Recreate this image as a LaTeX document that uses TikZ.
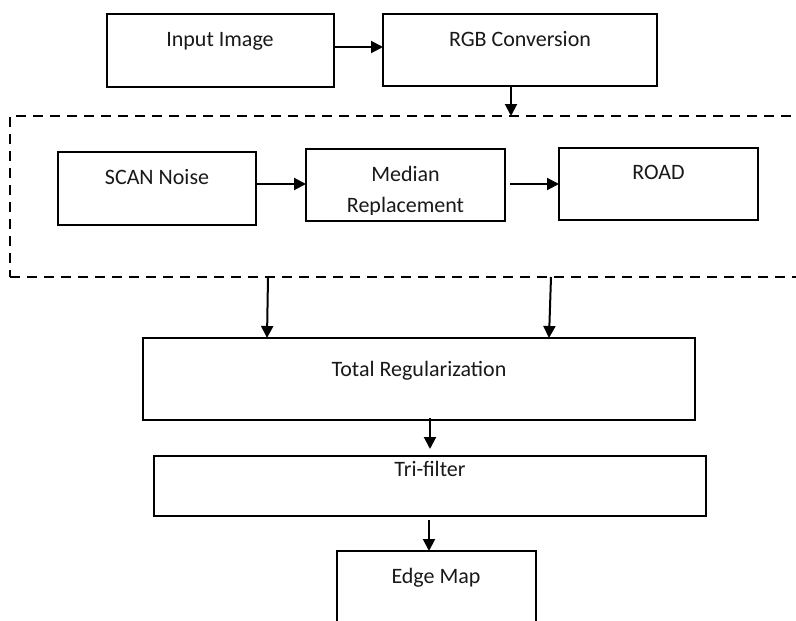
\documentclass[tikz,border=0pt]{standalone}
\usepackage{fontspec}
\setmainfont{Carlito}
\usetikzlibrary{arrows.meta}
\begin{document}
\begin{tikzpicture}[x=1pt,y=-1pt,
  box/.style={draw, line width=2pt, inner sep=0pt, outer sep=0pt},
  grpbox/.style={draw, line width=2.5pt, dash pattern=on 10pt off 7pt, inner sep=0pt, outer sep=0pt},
  lbl/.style={font=\fontsize{22}{26}\selectfont, anchor=base, inner sep=0pt, text=black!90},
  arr/.style={-{Triangle[length=12pt,width=12pt]}, line width=2pt}]
\useasboundingbox (0,0) rectangle (796,621);
\clip (0,0) rectangle (796,621);
\fill[white] (0,0) rectangle (796,621);

% top row
\node[box, minimum width=227pt, minimum height=73pt] (in) at (220.5,50.5) {};
\node[box, minimum width=274pt, minimum height=72pt] (rgb) at (520,50) {};
\node[lbl] (tin) at (220,46) {Input Image};
\node[lbl] (trgb) at (520,46) {RGB Conversion};

% dashed group holding the three noise stages
\node[grpbox, minimum width=820pt, minimum height=161pt] (grp) at (420,196.5) {};
\node[box, minimum width=198pt, minimum height=73pt] (scan) at (157,188.5) {};
\node[box, minimum width=199pt, minimum height=72pt] (med) at (405.5,185) {};
\node[box, minimum width=199pt, minimum height=72pt] (road) at (658.5,184) {};
\node[lbl] (tscan) at (157,184) {SCAN Noise};
\node[lbl] (tmed) at (405.5,181) {Median};
\begin{scope}
  \clip (306,149) rectangle (505,214);
  \node[lbl] (trep) at (405.5,212.5) {Replacement};
\end{scope}
\node[lbl] (troad) at (658.5,179) {ROAD};

% lower chain
\node[box, minimum width=552pt, minimum height=82pt] (total) at (419,379) {};
\node[box, minimum width=552pt, minimum height=60pt] (tri) at (430,486) {};
\node[box, minimum width=199pt, minimum height=99pt] (edge) at (436.5,600.5) {};
\node[lbl] (ttotal) at (419,376) {Total Regularization};
\node[lbl] (ttri) at (430,476) {Tri-filter};
\node[lbl] (tedge) at (436,583) {Edge Map};

% connectors
\coordinate (a1) at ([yshift=3.5pt]in.east);
\draw[arr] (a1) -- (a1 -| rgb.west);
\coordinate (a2) at ([xshift=-9pt]rgb.south);
\draw[arr] (a2) -- (a2 |- grp.north);
\coordinate (a3) at ([yshift=4.5pt]scan.east);
\draw[arr] (a3) -- (a3 -| med.west);
\coordinate (a4) at ([xshift=5pt,yshift=1pt]med.east);
\draw[arr] (a4) -- (a4 -| road.west);
\coordinate (a5) at ([xshift=-152pt]grp.south);
\coordinate (b5) at ([xshift=-152pt]total.north);
\draw[arr] (a5) -- (b5);
\coordinate (a6) at ([xshift=131pt]grp.south);
\coordinate (b6) at ([xshift=130pt]total.north);
\draw[arr] (a6) -- (b6);
\coordinate (a7) at ([xshift=11pt,yshift=2pt]total.south);
\draw[arr, shorten >=7pt] (a7) -- (a7 |- tri.north);
\coordinate (a8) at ([xshift=-1pt,yshift=-4pt]tri.south);
\draw[arr] (a8) -- (a8 |- edge.north);
\end{tikzpicture}
\end{document}
